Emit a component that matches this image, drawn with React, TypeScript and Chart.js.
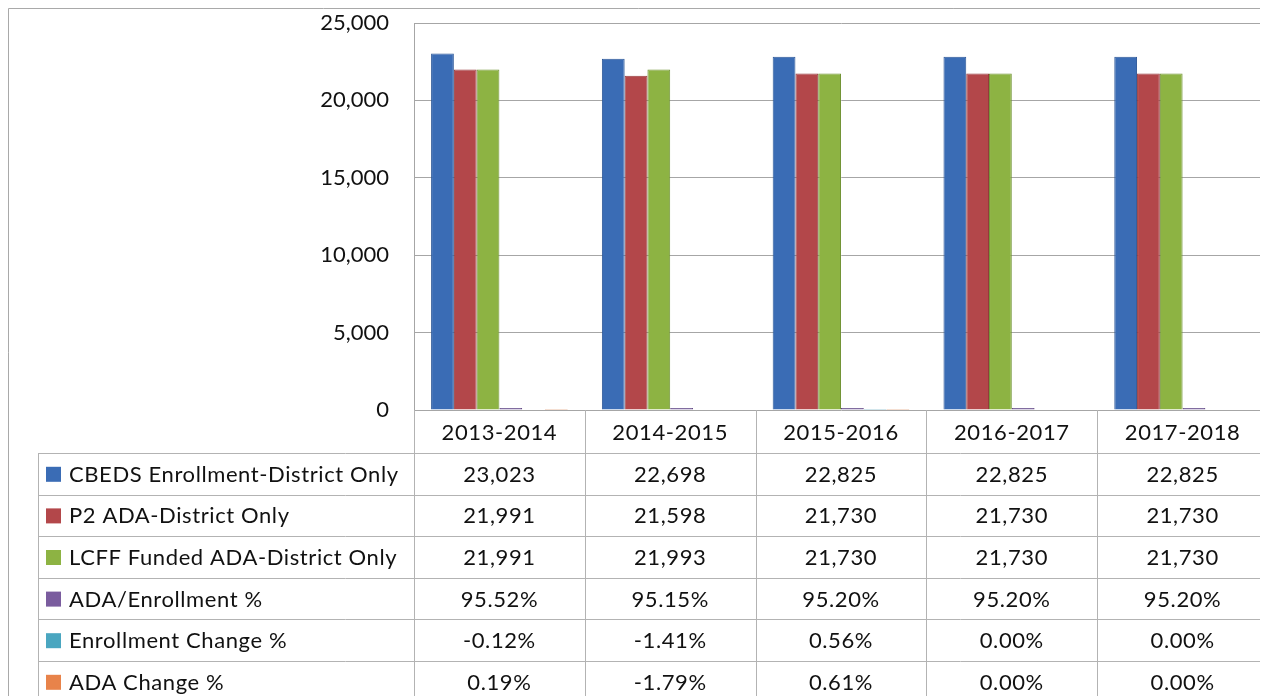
import React, { useEffect, useRef } from "react";
import { Chart, registerables } from "chart.js";

Chart.register(...registerables);

const categories = ["2013-2014", "2014-2015", "2015-2016", "2016-2017", "2017-2018"];
const seriesNames = [
  "CBEDS Enrollment-District Only",
  "P2 ADA-District Only",
  "LCFF Funded ADA-District Only",
  "ADA/Enrollment %",
  "Enrollment Change %",
  "ADA Change %",
];
const cbedsEnrollment = [23023, 22698, 22825, 22825, 22825];
const p2Ada = [21991, 21598, 21730, 21730, 21730];
const lcffFundedAda = [21991, 21993, 21730, 21730, 21730];
const adaEnrollmentPct = [95.52, 95.15, 95.2, 95.2, 95.2];
const enrollmentChangePct = [-0.12, -1.41, 0.56, 0.0, 0.0];
const adaChangePct = [0.19, -1.79, 0.61, 0.0, 0.0];
const yTicks = [0, 5000, 10000, 15000, 20000, 25000];

const seriesColors = ["#3a6cb5", "#b3474a", "#8db343", "#7a5c9e", "#4aa6c0", "#e8834a"];
const seriesBorders = ["#2c5798", "#963a3c", "#729436", "#5e4582", "#3a8aa1", "#c86d3a"];

const FONT = "Lato, 'Open Sans', sans-serif";

const fmtInt = (v: number) => v.toLocaleString("en-US");
const fmtPct = (v: number) => v.toFixed(2) + "%";

const tablePlugin = {
  id: "dataTable",
  afterDraw(chart: any) {
    const ctx = chart.ctx as CanvasRenderingContext2D;
    const area = chart.chartArea;
    const x = chart.scales.x;
    const W = chart.width;
    const H = chart.height;
    const n = categories.length;
    const catW = (area.right - area.left) / n;
    const bounds: number[] = [];
    for (let i = 0; i <= n; i++) bounds.push(area.left + i * catW);

    const headerTop = area.bottom;
    const rowTop = headerTop + 43;
    const rowH = 41.6;
    const legendLeft = 30;

    ctx.save();
    // outer border (top & left)
    ctx.strokeStyle = "#a9a9a9";
    ctx.lineWidth = 1;
    ctx.beginPath();
    ctx.moveTo(0.5, H);
    ctx.lineTo(0.5, 0.5);
    ctx.lineTo(W, 0.5);
    ctx.stroke();

    // table lines
    ctx.strokeStyle = "#b3b3b3";
    ctx.beginPath();
    for (let i = 0; i < n; i++) {
      const bx = Math.round(bounds[i]) + 0.5;
      ctx.moveTo(bx, headerTop);
      ctx.lineTo(bx, H);
    }
    ctx.moveTo(legendLeft + 0.5, rowTop);
    ctx.lineTo(legendLeft + 0.5, H);
    for (let r = 0; r < seriesNames.length; r++) {
      const y = Math.round(rowTop + r * rowH) + 0.5;
      ctx.moveTo(legendLeft, y);
      ctx.lineTo(W, y);
    }
    ctx.stroke();

    ctx.fillStyle = "#111";
    ctx.textBaseline = "middle";
    ctx.textAlign = "center";
    ctx.font = `22px ${FONT}`;
    (ctx as any).letterSpacing = "0.6px";
    // header
    for (let i = 0; i < n; i++) {
      const cx = x.getPixelForValue(i);
      ctx.fillText(categories[i], cx, (headerTop + rowTop) / 2 + 1);
    }
    const rows = [
      cbedsEnrollment.map(fmtInt),
      p2Ada.map(fmtInt),
      lcffFundedAda.map(fmtInt),
      adaEnrollmentPct.map(fmtPct),
      enrollmentChangePct.map(fmtPct),
      adaChangePct.map(fmtPct),
    ];
    for (let r = 0; r < rows.length; r++) {
      const cy = rowTop + r * rowH + rowH / 2 + 1;
      ctx.textAlign = "center";
      for (let i = 0; i < n; i++) {
        ctx.fillText(rows[r][i], x.getPixelForValue(i), cy);
      }
      // legend key
      ctx.fillStyle = seriesColors[r];
      ctx.fillRect(legendLeft + 8, cy - 8, 15, 15);
      ctx.fillStyle = "#111";
      ctx.textAlign = "left";
      ctx.fillText(seriesNames[r], legendLeft + 31, cy);
    }
    ctx.restore();
  },
};

export default function App() {
  const ref = useRef<HTMLCanvasElement | null>(null);
  useEffect(() => {
    if (!ref.current) return;
    const allSeries = [
      cbedsEnrollment,
      p2Ada,
      lcffFundedAda,
      adaEnrollmentPct,
      enrollmentChangePct,
      adaChangePct,
    ];
    const chart = new Chart(ref.current, {
      type: "bar",
      data: {
        labels: categories,
        datasets: allSeries.map((d, i) => ({
          label: seriesNames[i],
          data: d,
          backgroundColor: seriesColors[i],
          borderColor: seriesBorders[i],
          borderWidth: 1,
          categoryPercentage: 0.8,
          barPercentage: 1.0,
          minBarLength: i === 3 ? 2 : 0,
        })),
      },
      options: {
        responsive: false,
        animation: false,
        maintainAspectRatio: false,
        layout: { padding: { top: 15, bottom: 286, left: 0, right: 0 } },
        plugins: {
          legend: { display: false },
          tooltip: { enabled: false },
          title: { display: false },
        },
        scales: {
          x: { display: false },
          y: {
            min: 0,
            max: 25000,
            afterFit: (scale: any) => {
              scale.width = 406;
              scale.paddingTop = 0;
              scale.paddingBottom = 0;
            },
            afterBuildTicks: (scale: any) => {
              scale.ticks = yTicks.map((v) => ({ value: v }));
            },
            grid: { color: "#a6a6a6", drawTicks: false, lineWidth: 1 },
            border: { display: true, color: "#a6a6a6" },
            ticks: {
              padding: 25,
              color: "#111",
              font: { family: FONT, size: 22 },
              callback: (v: any) => fmtInt(Number(v)),
            },
          },
        },
      },
      plugins: [tablePlugin],
    });
    return () => chart.destroy();
  }, []);
  return (
    <div style={{ width: 1260, height: 688 }}>
      <canvas ref={ref} width={1260} height={688} style={{ display: "block" }} />
    </div>
  );
}
